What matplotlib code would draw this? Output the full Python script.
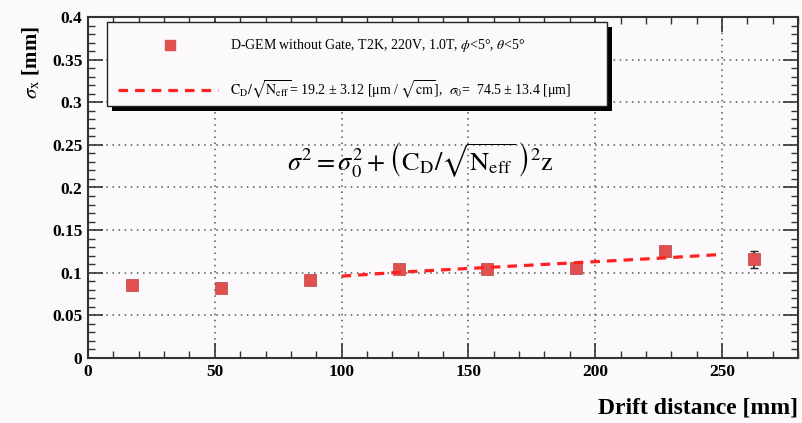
import matplotlib
matplotlib.use('Agg')
import matplotlib.pyplot as plt
from matplotlib.patches import Rectangle
from matplotlib.lines import Line2D
from matplotlib.ticker import MultipleLocator

# drift distance [mm] and sigma_x [mm]
drift = [17.5, 52.5, 87.5, 122.5, 157.5, 192.5, 227.5, 262.5]
sigma = [0.086, 0.082, 0.091, 0.104, 0.104, 0.106, 0.125, 0.116]
sigma_err = [0.003, 0.002, 0.003, 0.003, 0.003, 0.006, 0.004, 0.010]

# fit curve
fit_x = [100, 125, 150, 175, 200, 225, 250]
fit_y = [0.096, 0.101, 0.105, 0.109, 0.113, 0.117, 0.1215]

legend_1 = 'D-GEM without Gate, T2K, 220V, 1.0T, $\\phi$<5°, $\\theta$<5°'
legend_2 = ('$\\mathrm{C_D}/\\sqrt{\\mathrm{N_{eff}}}$= 19.2 ± 3.12 [μm / $\\sqrt{\\mathrm{cm}}$],  '
            '$\\sigma_0$=  74.5 ± 13.4 [μm]')

bg = '#fbf9fb'
red = '#e05050'

plt.rcParams['font.family'] = ['Liberation Serif', 'DejaVu Serif']
plt.rcParams['mathtext.fontset'] = 'stix'

fig = plt.figure(figsize=(8.02, 4.23), dpi=100, facecolor=bg)
ax = fig.add_axes([88/802, 1-358/423, (798-88)/802, (358-17)/423])
ax.set_facecolor(bg)

ax.errorbar(drift, sigma, yerr=sigma_err, fmt='none', ecolor='#222222',
            elinewidth=1.2, capsize=3, zorder=3)
ax.plot(drift, sigma, 's', ms=8, color=red, mec='#c04040', mew=0.5, zorder=4)
ax.plot(fit_x, fit_y, '--', color='#ff2020', lw=2.3, dashes=(3, 2.2), zorder=5)

ax.set_xlim(0, 280)
ax.set_ylim(0, 0.4)
ax.xaxis.set_minor_locator(MultipleLocator(10))
ax.yaxis.set_minor_locator(MultipleLocator(0.01))
ax.set_xticks([0, 50, 100, 150, 200, 250])
ax.set_xticklabels(['0', '50', '100', '150', '200', '250'])
ax.set_yticks([0, 0.05, 0.1, 0.15, 0.2, 0.25, 0.3, 0.35, 0.4])
ax.set_yticklabels(['0', '0.05', '0.1', '0.15', '0.2', '0.25', '0.3', '0.35', '0.4'])
ax.tick_params(which='both', direction='in', top=True, right=True, color='#333333')
ax.tick_params(which='major', length=11, width=1.2, labelsize=12.5, pad=4)
ax.tick_params(which='minor', length=5, width=1)
for lab in ax.get_xticklabels() + ax.get_yticklabels():
    lab.set_fontweight('bold')
for s in ax.spines.values():
    s.set_linewidth(1.5)
    s.set_color('#333333')

ax.grid(True, which='major', linestyle=(0, (1, 3)), color='#555555', lw=1.1)

fig.text(420/802, 1-160/423,
         r'$\sigma^2 = \sigma_0^2 + \left( \mathrm{C_D}/\sqrt{\mathrm{N_{eff}}}\, \right)^2 \mathrm{z}$',
         ha='center', va='center', fontsize=19, zorder=6)

fig.text(798/802, 1-408/423, 'Drift distance [mm]', ha='right', va='center',
         fontsize=17, fontweight='bold')
fig.text(32/802, 1-62/423, r'$\sigma_\mathrm{x}$ [mm]', rotation=90, ha='center', va='center',
         fontsize=15, fontweight='bold')

# legend box with ROOT style shadow
x0, y0, w, h = 107, 22, 500, 84
fig.patches.append(Rectangle(((x0+5)/802, 1-(y0+h+5)/423), w/802, h/423,
                             transform=fig.transFigure, facecolor='black',
                             edgecolor='none', zorder=7))
fig.patches.append(Rectangle((x0/802, 1-(y0+h)/423), w/802, h/423,
                             transform=fig.transFigure, facecolor=bg,
                             edgecolor='#222222', lw=1, zorder=8))
fig.lines.append(Line2D([170/802], [1-45/423], marker='s', ms=7, color=red,
                        transform=fig.transFigure, zorder=9))
fig.lines.append(Line2D([118/802, 218/802], [1-90/423, 1-90/423], ls='--',
                        color='#ff2020', lw=2.3, dashes=(3, 2.2),
                        transform=fig.transFigure, zorder=9))
fig.text(230/802, 1-45/423, legend_1, fontsize=10, va='center', zorder=9)
fig.text(230/802, 1-90/423, legend_2, fontsize=10, va='center', zorder=9)

fig.savefig('out.png', dpi=100, facecolor=bg)
